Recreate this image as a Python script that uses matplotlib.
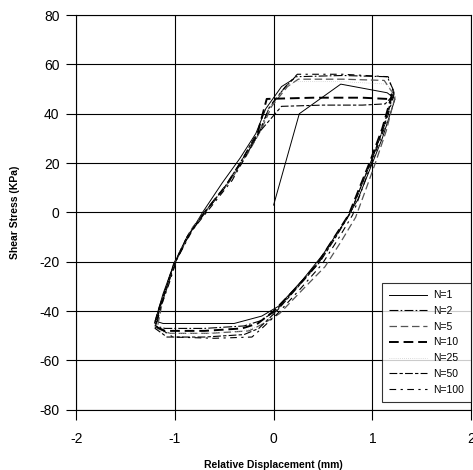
import matplotlib
matplotlib.use("Agg")
import matplotlib.pyplot as plt

# cyclic shear test, hysteresis loops
labels = ["N=1", "N=2", "N=5", "N=10", "N=25", "N=50", "N=100"]

x_n1 = [0.00, 0.26, 0.68, 1.15, 1.23, 1.10, 0.98, 0.85, 0.70, 0.50, 0.30, 0.05, -0.12, -0.40, -0.80, -1.12, -1.20,
        -1.12, -1.02, -0.90, -0.72, -0.52, -0.34, -0.18, -0.08, 0.08, 0.20]
y_n1 = [3, 40, 52, 48.5, 46, 30, 18, 5, -5, -17, -27, -38, -42, -45, -45, -45, -44,
        -33, -22, -12, 0, 12, 22, 32, 42, 51, 54]

x_n2 = [1.22, 1.12, 1.00, 0.90, 0.78, 0.62, 0.46, 0.24, 0.02, -0.14, -0.30, -0.70, -1.10, -1.20,
        -1.15, -1.08, -1.00, -0.85, -0.66, -0.46, -0.30, -0.15, -0.05, 0.10, 0.22, 0.70, 1.15, 1.22]
y_n2 = [49, 35, 22, 12, 0, -10, -20, -30, -40, -44, -46, -47, -47, -46,
        -38, -30, -20, -8, 2, 12, 22, 32, 42, 50, 55, 55.5, 55, 49]

x_n5 = [1.23, 1.14, 1.03, 0.94, 0.83, 0.68, 0.52, 0.30, 0.06, -0.10, -0.25, -0.65, -1.05, -1.18,
        -1.13, -1.06, -0.98, -0.82, -0.62, -0.42, -0.26, -0.12, -0.02, 0.14, 0.25, 0.70, 1.12, 1.23]
y_n5 = [47, 33, 20, 10, -2, -12, -22, -31, -41, -45, -48, -49, -49, -47,
        -37, -28, -19, -6, 4, 14, 24, 34, 43, 51, 54, 54, 53.5, 47]

x_n10 = [1.20, 1.10, 0.98, 0.88, 0.76, 0.60, 0.44, 0.22, 0.00, -0.16, -0.32, -0.70, -1.10, -1.21,
         -1.16, -1.09, -1.01, -0.86, -0.68, -0.48, -0.32, -0.17, -0.07, 0.40, 0.90, 1.15, 1.20]
y_n10 = [48, 34, 21, 11, -1, -11, -21, -31, -40, -45, -47, -48, -48, -46,
         -39, -31, -21, -9, 1, 11, 21, 31, 46, 46.5, 46.5, 46, 48]

x_n25 = [1.21, 1.11, 0.99, 0.89, 0.77, 0.61, 0.45, 0.23, 0.01, -0.15, -0.30, -0.70, -1.10, -1.21,
         -1.15, -1.08, -1.00, -0.85, -0.66, -0.46, -0.30, -0.15, -0.05, 0.10, 0.22, 0.70, 1.15, 1.21]
y_n25 = [48, 34, 21, 11, -1, -11, -21, -31, -41, -46, -48, -49, -49, -47,
         -39, -30, -20, -8, 2, 12, 22, 32, 42, 50, 53, 53, 52, 48]

x_n50 = [1.20, 1.10, 0.99, 0.89, 0.78, 0.63, 0.47, 0.25, 0.03, -0.15, -0.30, -0.70, -1.08, -1.20,
         -1.16, -1.09, -1.02, -0.88, -0.70, -0.50, -0.34, -0.20, 0.08, 0.50, 0.90, 1.13, 1.20]
y_n50 = [47, 33, 21, 11, 0, -10, -20, -30, -40, -47, -49.5, -50.5, -50.5, -47,
         -40, -31, -22, -10, 0, 10, 20, 30, 43, 43.5, 43.5, 44, 47]

x_n100 = [1.22, 1.12, 1.00, 0.91, 0.80, 0.65, 0.49, 0.27, 0.04, -0.12, -0.22, -0.60, -1.02, -1.19,
          -1.14, -1.06, -0.98, -0.82, -0.62, -0.42, -0.28, -0.14, -0.04, 0.12, 0.24, 0.70, 1.16, 1.22]
y_n100 = [48, 34, 21, 11, -1, -11, -21, -31, -41, -47, -50.5, -51, -50.5, -46,
          -38, -29, -19, -7, 3, 13, 23, 33, 43, 51, 56, 56, 55, 48]

xs = [x_n1, x_n2, x_n5, x_n10, x_n25, x_n50, x_n100]
ys = [y_n1, y_n2, y_n5, y_n10, y_n25, y_n50, y_n100]

styles = [
    dict(color="black", lw=0.7, ls="-"),
    dict(color="black", lw=0.8, ls=(0, (8, 2, 1.5, 2))),
    dict(color="#555555", lw=0.9, ls=(0, (6, 3))),
    dict(color="black", lw=1.4, ls=(0, (5, 2.5))),
    dict(color="#bbbbbb", lw=0.5, ls=(0, (1, 2))),
    dict(color="black", lw=0.8, ls=(0, (7, 2, 3, 2))),
    dict(color="black", lw=0.8, ls=(0, (6, 4, 2, 4))),
]

plt.rcParams["font.family"] = ["Liberation Sans", "DejaVu Sans"]
plt.rcParams["axes.unicode_minus"] = False

fig = plt.figure(figsize=(4.73, 4.70), dpi=100)
ax = fig.add_axes([0.161, 0.128, 0.835, 0.840])

for x, y, lab, st in zip(xs, ys, labels, styles):
    ax.plot(x, y, label=lab, **st)

ax.set_xlim(-2, 2)
ax.set_ylim(-80, 80)
ax.set_xticks([-2, -1, 0, 1, 2])
ax.set_yticks([-80, -60, -40, -20, 0, 20, 40, 60, 80])
ax.grid(True, color="black", lw=0.8)
ax.set_axisbelow(True)
for s in ax.spines.values():
    s.set_color("black")
    s.set_linewidth(0.8)
ax.tick_params(axis="both", length=7, width=0.8, direction="out", labelsize=10, colors="black")
ax.tick_params(axis="x", pad=9)
ax.tick_params(axis="y", pad=5)

ax.set_xlabel("Relative Displacement (mm)", fontsize=7.5, fontweight="bold", labelpad=10)
ax.set_ylabel("Shear Stress (KPa)", fontsize=7.5, fontweight="bold", labelpad=14)

leg = ax.legend(loc="lower right", bbox_to_anchor=(1.0, 0.02), borderaxespad=0, fontsize=7.5,
                frameon=True, fancybox=False, edgecolor="black", handlelength=3.6,
                labelspacing=0.55, borderpad=0.7, handletextpad=0.6)
leg.get_frame().set_linewidth(0.8)

fig.savefig("out.png", dpi=100)
